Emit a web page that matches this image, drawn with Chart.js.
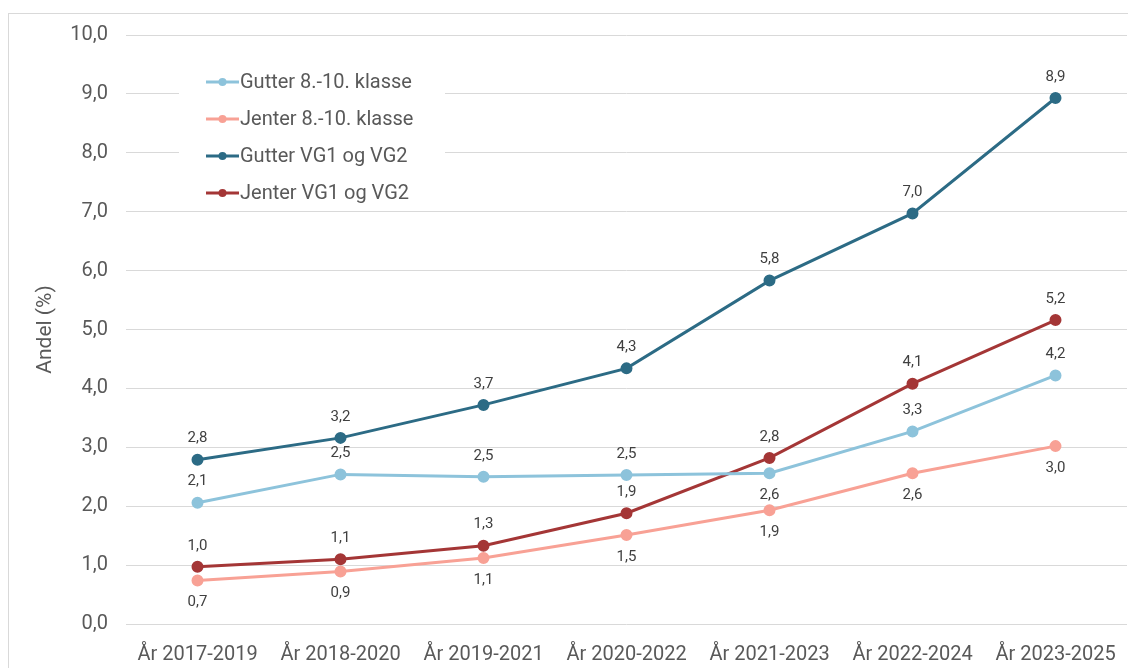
<!DOCTYPE html>
<html>
<head>
<meta charset="utf-8">
<script src="https://cdn.jsdelivr.net/npm/chart.js@4.4.1/dist/chart.umd.min.js"></script>
<style>
  html, body { margin: 0; padding: 0; background: #fff; overflow: hidden; }
  #frame { position: absolute; left: 8px; top: 13px; width: 1300px; height: 800px; border: 1px solid #d9d9d9; }
  #wrap { position: absolute; left: 0; top: 0; width: 1128px; height: 668px; overflow: hidden; }
</style>
</head>
<body>
<div id="frame"></div>
<div id="wrap"><canvas id="chart" width="1135" height="668"></canvas></div>
<script>
// Andel (%) per treårsperiode
const periods = ['År 2017-2019', 'År 2018-2020', 'År 2019-2021', 'År 2020-2022', 'År 2021-2023', 'År 2022-2024', 'År 2023-2025'];
const gutterUng = [2.06, 2.54, 2.50, 2.53, 2.56, 3.27, 4.22];
const jenterUng = [0.74, 0.89, 1.12, 1.51, 1.93, 2.56, 3.02];
const gutterVG = [2.79, 3.16, 3.72, 4.34, 5.83, 6.97, 8.93];
const jenterVG = [0.97, 1.10, 1.33, 1.88, 2.82, 4.08, 5.16];

const GREY = '#595959';
const FONT = "Roboto, 'Liberation Sans', sans-serif";
const fmt = (v) => v.toFixed(1).replace('.', ',');

const series = (label, data, color, side) => ({
  label, data,
  borderColor: color, backgroundColor: color,
  borderWidth: 3, pointRadius: 4.5, pointHoverRadius: 5,
  tension: 0, labelSide: side,
});

// value labels above ('a') or below ('b') each point
const valueLabels = {
  id: 'valueLabels',
  afterDatasetsDraw(chart) {
    const { ctx } = chart;
    ctx.save();
    ctx.font = `15px ${FONT}`;
    ctx.fillStyle = '#404040';
    ctx.textAlign = 'center';
    ctx.textBaseline = 'middle';
    chart.data.datasets.forEach((ds, di) => {
      chart.getDatasetMeta(di).data.forEach((pt, i) => {
        const dy = ds.labelSide[i] === 'a' ? -21 : 22;
        ctx.fillText(fmt(ds.data[i]), pt.x, pt.y + dy);
      });
    });
    ctx.restore();
  },
};

// legend inside the plot, top-left, on a white box
const insideLegend = {
  id: 'insideLegend',
  beforeDatasetsDraw(chart) {
    const { ctx } = chart;
    ctx.save();
    ctx.fillStyle = '#fff';
    ctx.fillRect(179, 62, 266, 146);
    ctx.font = `20px ${FONT}`;
    ctx.textBaseline = 'middle';
    chart.data.datasets.forEach((ds, i) => {
      const y = 82 + i * 37;
      ctx.strokeStyle = ds.borderColor;
      ctx.lineWidth = 3;
      ctx.beginPath();
      ctx.moveTo(206, y);
      ctx.lineTo(239, y);
      ctx.stroke();
      ctx.fillStyle = ds.borderColor;
      ctx.beginPath();
      ctx.arc(222.5, y, 4, 0, Math.PI * 2);
      ctx.fill();
      ctx.fillStyle = GREY;
      ctx.fillText(ds.label, 240, y + 1);
    });
    ctx.restore();
  },
};

new Chart(document.getElementById('chart'), {
  type: 'line',
  data: {
    labels: periods,
    datasets: [
      series('Gutter 8.-10. klasse', gutterUng, '#8dc3db', ['a', 'a', 'a', 'a', 'b', 'a', 'a']),
      series('Jenter 8.-10. klasse', jenterUng, '#f8a195', ['b', 'b', 'b', 'b', 'b', 'b', 'b']),
      series('Gutter VG1 og VG2', gutterVG, '#2c6b85', ['a', 'a', 'a', 'a', 'a', 'a', 'a']),
      series('Jenter VG1 og VG2', jenterVG, '#a43636', ['a', 'a', 'a', 'a', 'a', 'a', 'a']),
    ],
  },
  options: {
    responsive: false,
    animation: false,
    layout: { padding: { top: 35, right: 0, bottom: 0, left: 0 } },
    plugins: { legend: { display: false }, tooltip: { enabled: false } },
    scales: {
      x: {
        offset: true,
        grid: { display: false, offset: true },
        border: { display: false },
        ticks: { color: GREY, font: { family: FONT, size: 20 }, padding: 11, maxRotation: 0, autoSkip: false },
        afterFit: (s) => { s.height = 44; },
      },
      y: {
        min: 0, max: 10,
        grid: { color: '#d9d9d9', lineWidth: 1, drawTicks: false },
        border: { display: false },
        ticks: { stepSize: 1, color: GREY, font: { family: FONT, size: 20 }, padding: 18, callback: (v) => fmt(v) },
        title: { display: true, text: 'Andel (%)', color: GREY, font: { family: FONT, size: 21 }, padding: { top: 33, bottom: 0 } },
        afterFit: (s) => { s.width = 126; },
      },
    },
  },
  plugins: [insideLegend, valueLabels],
});
</script>
</body>
</html>
